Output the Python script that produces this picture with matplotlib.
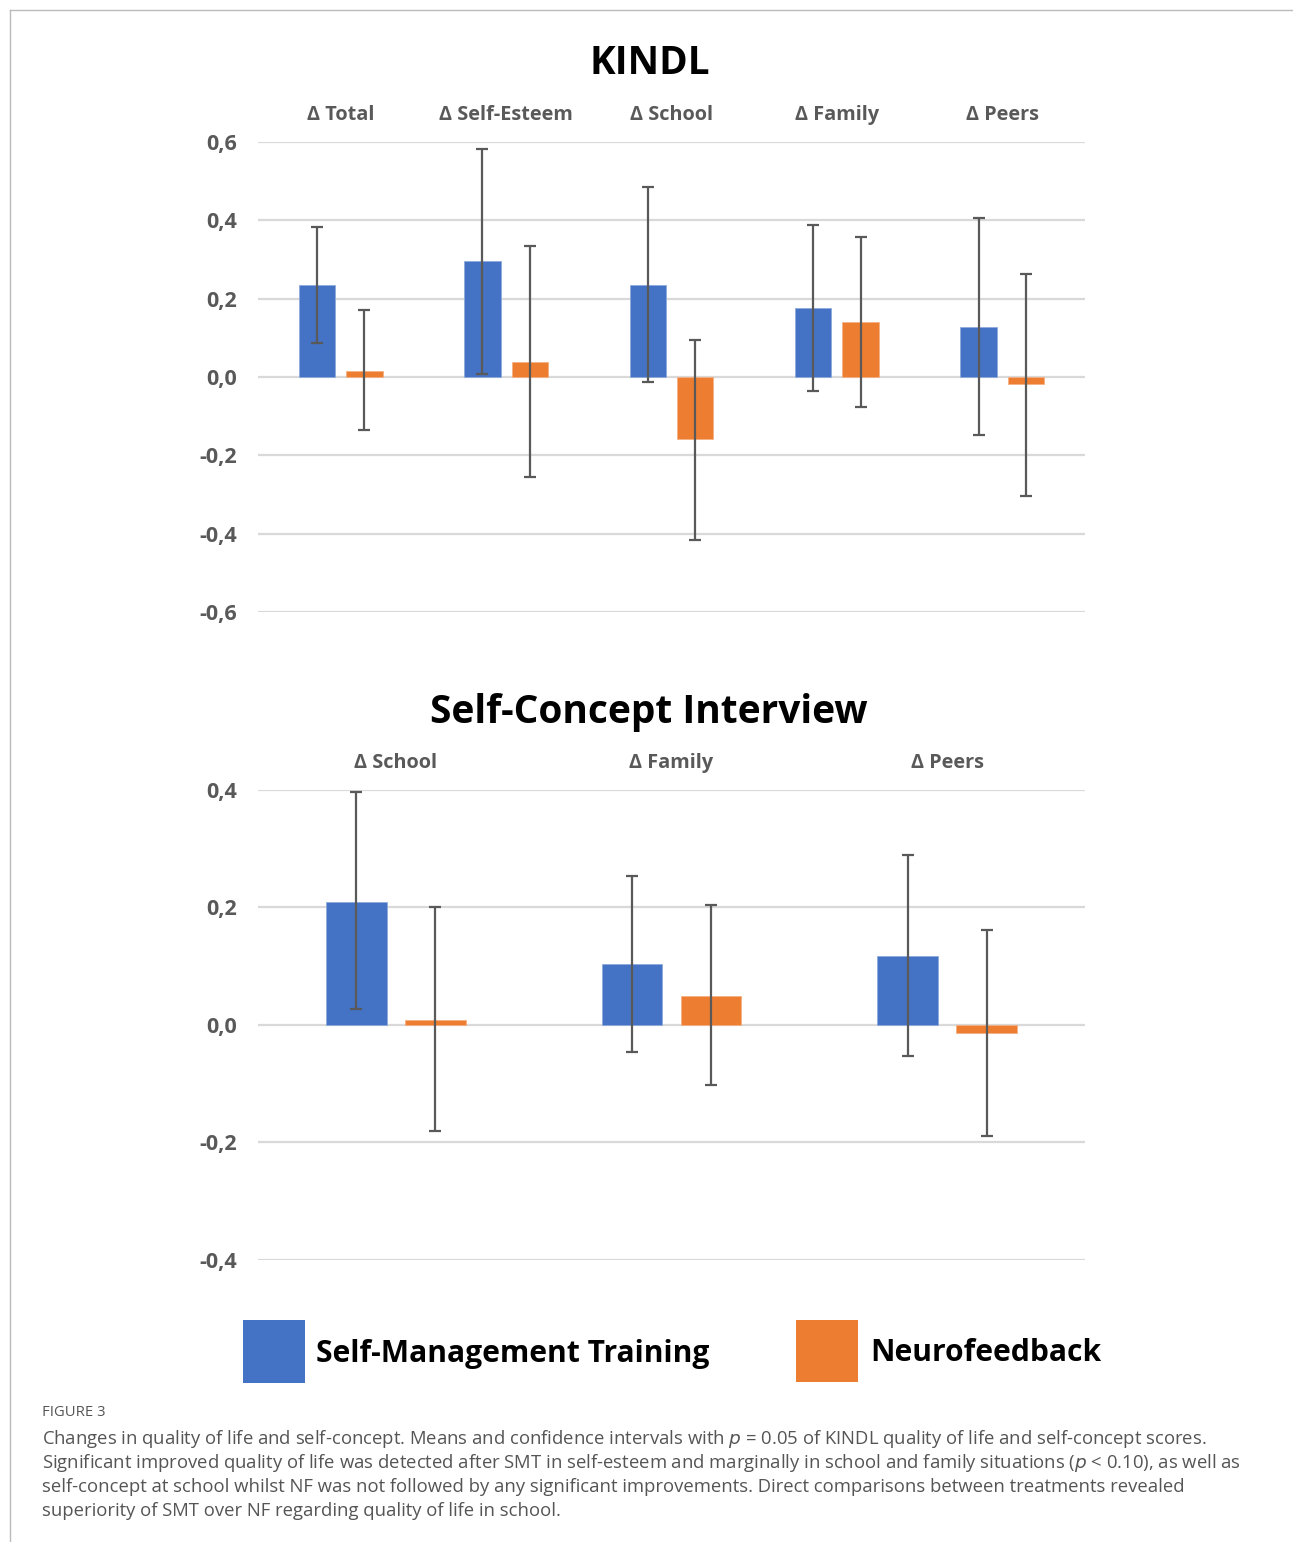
import matplotlib
matplotlib.use("Agg")
import matplotlib.pyplot as plt
from matplotlib.patches import Rectangle
from matplotlib.lines import Line2D
from matplotlib.ticker import FuncFormatter
import numpy as np

# KINDL quality of life changes
kindl_cats = ["Δ Total", "Δ Self-Esteem", "Δ School", "Δ Family", "Δ Peers"]
kindl_smt = [0.235, 0.295, 0.235, 0.175, 0.128]
kindl_smt_lo = [0.087, 0.008, -0.013, -0.036, -0.148]
kindl_smt_hi = [0.384, 0.583, 0.485, 0.387, 0.406]
kindl_nf = [0.016, 0.039, -0.159, 0.140, -0.019]
kindl_nf_lo = [-0.135, -0.255, -0.416, -0.077, -0.304]
kindl_nf_hi = [0.170, 0.335, 0.095, 0.358, 0.264]
kindl_ticks = [0.6, 0.4, 0.2, 0.0, -0.2, -0.4, -0.6]

# Self-Concept Interview changes
sci_cats = ["Δ School", "Δ Family", "Δ Peers"]
sci_smt = [0.210, 0.103, 0.118]
sci_smt_lo = [0.027, -0.046, -0.053]
sci_smt_hi = [0.396, 0.254, 0.290]
sci_nf = [0.008, 0.049, -0.013]
sci_nf_lo = [-0.180, -0.103, -0.189]
sci_nf_hi = [0.200, 0.204, 0.162]
sci_ticks = [0.4, 0.2, 0.0, -0.2, -0.4]

BLUE = "#4472C4"
ORANGE = "#ED7D31"
GRID = "#D9D9D9"
LABEL = "#595959"
ERR = "#595959"
FONT = ["Open Sans", "DejaVu Sans"]

plt.rcParams["font.family"] = FONT

fig = plt.figure(figsize=(12.93, 15.42), dpi=100)


def comma(v, pos):
    return f"{v:.1f}".replace(".", ",")


def draw_panel(ax, cats, smt, smt_lo, smt_hi, nf, nf_lo, nf_hi, ticks):
    x = np.arange(len(cats))
    w = 0.22
    off = 0.143
    smt = np.array(smt)
    nf = np.array(nf)
    ax.bar(x - off, smt, w, color=BLUE, edgecolor="#8FAADC", linewidth=0.6, zorder=3)
    ax.bar(x + off, nf, w, color=ORANGE, edgecolor="#F4B183", linewidth=0.6, zorder=3)
    ax.errorbar(x - off, smt, yerr=[smt - np.array(smt_lo), np.array(smt_hi) - smt],
                fmt="none", ecolor=ERR, elinewidth=1.6, capsize=4, capthick=1.6, zorder=4)
    ax.errorbar(x + off, nf, yerr=[nf - np.array(nf_lo), np.array(nf_hi) - nf],
                fmt="none", ecolor=ERR, elinewidth=1.6, capsize=4, capthick=1.6, zorder=4)
    ax.set_xlim(-0.5, len(cats) - 0.5)
    ax.set_ylim(min(ticks), max(ticks))
    ax.set_yticks(ticks)
    ax.yaxis.set_major_formatter(FuncFormatter(comma))
    ax.yaxis.grid(True, color=GRID, linewidth=1.6, zorder=0)
    ax.set_axisbelow(True)
    for s in ax.spines.values():
        s.set_visible(False)
    ax.xaxis.tick_top()
    ax.set_xticks(x)
    ax.set_xticklabels(cats)
    ax.tick_params(axis="x", length=0, pad=12, labelsize=14.3, labelcolor=LABEL)
    ax.tick_params(axis="y", length=0, pad=15, labelsize=15.5, labelcolor=LABEL)
    for lab in ax.get_xticklabels() + ax.get_yticklabels():
        lab.set_fontweight("bold")


ax1 = fig.add_axes([0.1995, 0.6031, 0.6396, 0.3048])
draw_panel(ax1, kindl_cats, kindl_smt, kindl_smt_lo, kindl_smt_hi,
           kindl_nf, kindl_nf_lo, kindl_nf_hi, kindl_ticks)

ax2 = fig.add_axes([0.1995, 0.1829, 0.6396, 0.3048])
draw_panel(ax2, sci_cats, sci_smt, sci_smt_lo, sci_smt_hi,
           sci_nf, sci_nf_lo, sci_nf_hi, sci_ticks)

# titles
fig.text(0.5025, 1 - 63 / 1542, "KINDL", ha="center", va="center",
         fontsize=27.8, fontweight="bold", color="black")
fig.text(0.5015, 1 - 712 / 1542, "Self-Concept Interview", ha="center", va="center",
         fontsize=28, fontweight="bold", color="black")

# legend
fig.patches.append(Rectangle((243 / 1293, 1 - 1383 / 1542), 62 / 1293, 63 / 1542,
                             transform=fig.transFigure, facecolor=BLUE, edgecolor="none"))
fig.text(316 / 1293, 1 - 1354 / 1542, "Self-Management Training", ha="left", va="center",
         fontsize=21.6, fontweight="bold", color="black")
fig.patches.append(Rectangle((796 / 1293, 1 - 1382 / 1542), 62 / 1293, 62 / 1542,
                             transform=fig.transFigure, facecolor=ORANGE, edgecolor="none"))
fig.text(870 / 1293, 1 - 1353 / 1542, "Neurofeedback", ha="left", va="center",
         fontsize=21.6, fontweight="bold", color="black")

# page frame
fig.add_artist(Line2D([10 / 1293, 1], [1 - 10 / 1542, 1 - 10 / 1542],
                      transform=fig.transFigure, color="#BBBBBB", linewidth=1))
fig.add_artist(Line2D([10 / 1293, 10 / 1293], [0, 1 - 10 / 1542],
                      transform=fig.transFigure, color="#BBBBBB", linewidth=1))

# caption
cap_font = ["Open Sans", "DejaVu Sans"]
fig.text(42 / 1293, 1 - 1413 / 1542, "FIGURE 3", ha="left", va="center",
         fontsize=10.7, color="#555555", family=cap_font)
caption = [
    "Changes in quality of life and self-concept. Means and confidence intervals with $p$ = 0.05 of KINDL quality of life and self-concept scores.",
    "Significant improved quality of life was detected after SMT in self-esteem and marginally in school and family situations ($p$ < 0.10), as well as",
    "self-concept at school whilst NF was not followed by any significant improvements. Direct comparisons between treatments revealed",
    "superiority of SMT over NF regarding quality of life in school.",
]
for i, line in enumerate(caption):
    fig.text(42 / 1293, 1 - (1439 + 24 * i) / 1542, line, ha="left", va="center",
             fontsize=13.3, color="#555555", family=cap_font)

fig.savefig("out.png", dpi=100, facecolor="white")
